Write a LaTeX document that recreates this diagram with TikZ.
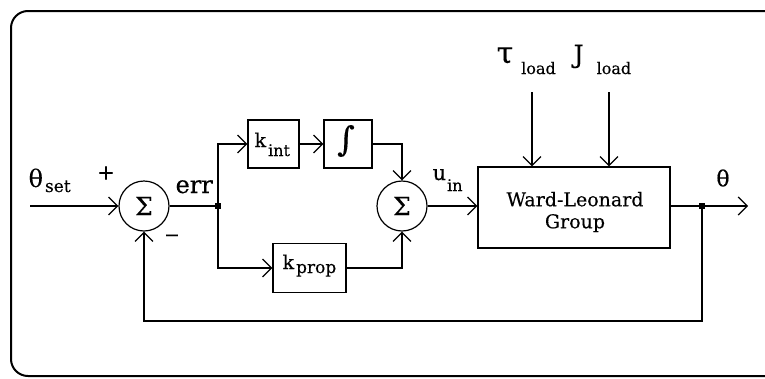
\documentclass[tikz,border=0pt]{standalone}
\usepackage{fontspec}
\setmainfont{DejaVu Serif}[FakeBold=0.3]
\usetikzlibrary{arrows.meta}
\newcommand\mysub[3]{\raisebox{-#1}{\fontsize{#2}{#2}\selectfont #3}}
\tikzset{
  arr/.style={-{Straight Barb[length=9pt,width=18pt]}},
  blk/.style={draw, line width=1.2pt, inner sep=0pt},
  sumnode/.style={draw, circle, line width=1.2pt, minimum size=50pt, inner sep=0pt, font=\fontsize{25}{25}\selectfont},
  jdot/.style={fill, minimum size=6pt, inner sep=0pt},
  lbl/.style={inner sep=0pt, anchor=base west},
  frame/.style={line width=2pt, rounded corners=17pt}
}
\begin{document}
\begin{tikzpicture}[x=1pt, y=-1pt, line width=1.2pt]
\useasboundingbox (0,0) rectangle (765,378);
\clip (0,0) rectangle (765,378);
\draw[frame] (11,11) rectangle (790,376);

% blocks
\node[sumnode] (s1) at (144,206) {Σ};
\node[sumnode] (s2) at (402,206) {Σ};
\node[blk, minimum width=51pt, minimum height=48pt] (kint) at (273.5,144) {};
\node[blk, minimum width=48pt, minimum height=48pt] (integ) at (348,144) {};
\node[blk, minimum width=73pt, minimum height=49pt] (kprop) at (309.5,268) {};
\node[blk, minimum width=192pt, minimum height=81pt] (wl) at (574,207.5) {};
\node[jdot] (j1) at (218,206) {};
\node[jdot] (j2) at (702,206) {};
\coordinate (inl) at (30,206);
\coordinate (tau0) at (532,92);
\coordinate (J0) at (609,92);
\coordinate (out) at (748,206);

% texts
\node[lbl, font=\fontsize{24}{24}\selectfont] (tset) at (28,187) {θ\hspace{2pt}\mysub{5pt}{17}{set}};
\node[inner sep=0pt, font=\fontsize{21}{21}\selectfont] (tplus) at (106,173) {+};
\node[inner sep=0pt, font=\fontsize{19}{19}\selectfont] (tminus) at (172,238) {−};
\node[lbl, font=\fontsize{24}{24}\selectfont] (terr) at (175,193) {err};
\node[lbl, font=\fontsize{19}{19}\selectfont] (tkint) at (254,147) {k\hspace{2pt}\mysub{9pt}{16}{int}};
\node[inner sep=0pt, font=\fontsize{34}{34}\selectfont] (tint) at (346,141) {∫};
\node[lbl, font=\fontsize{19}{19}\selectfont] (tkprop) at (282,269) {k\hspace{2pt}\mysub{4pt}{17}{prop}};
\node[lbl, font=\fontsize{21}{21}\selectfont] (tuin) at (432,180) {u\hspace{1pt}\mysub{11pt}{16}{in}};
\node[align=center, inner sep=0pt, font=\fontsize{19}{22}\selectfont] (twl) at (575,212) {Ward-Leonard\\Group};
\node[lbl, font=\fontsize{30}{30}\selectfont] (ttau) at (496,63) {τ\hspace{8pt}\mysub{11pt}{16}{load}};
\node[lbl, font=\fontsize{25}{25}\selectfont] (tJ) at (573,63) {J\hspace{13pt}\mysub{11pt}{16}{load}};
\node[inner sep=0pt, font=\fontsize{22}{22}\selectfont] (ttheta) at (723,178) {θ};

% connectors
\draw[arr] (inl) -- (s1.west);
\draw (s1.east) -- (j1.center);
\draw[arr] (j1.center) |- (kint.west);
\draw[arr] (kint.east) -- (integ.west);
\draw[arr] (integ.east) -| (s2.north);
\draw[arr] (j1.center) |- (kprop.west);
\draw[arr] (kprop.east) -| (s2.south);
\draw[arr] (s2.east) -- (wl.west |- s2.east);
\draw[arr] (tau0) -- (tau0 |- wl.north);
\draw[arr] (J0) -- (J0 |- wl.north);
\draw (wl.east |- j2) -- (j2.center);
\draw[arr] (j2.center) -- (out);
\draw[arr] (j2.center) -- ++(0,115) -| (s1.south);
\end{tikzpicture}
\end{document}
